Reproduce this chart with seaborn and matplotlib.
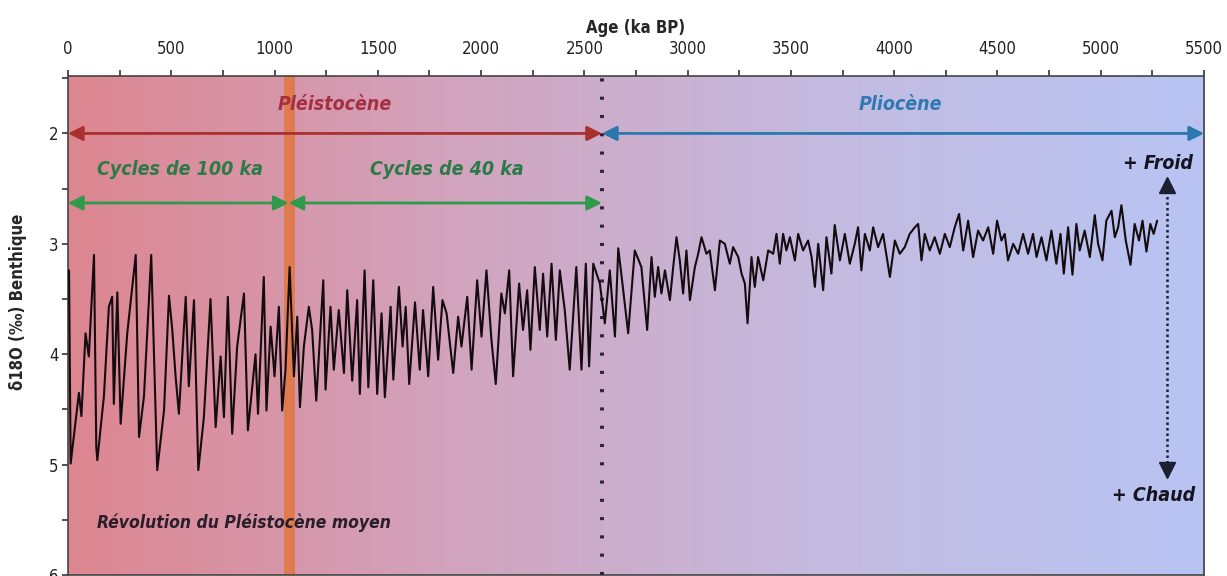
import numpy as np
import pandas as pd
import seaborn as sns
import matplotlib.pyplot as plt
from matplotlib import font_manager as fm
from matplotlib.colors import LinearSegmentedColormap
from matplotlib.ticker import MultipleLocator

sns.set_theme(style="ticks")

# narrow font like the original (Arial Narrow look)
cond = any(f.name == 'DejaVu Sans' and f.stretch == 'condensed' for f in fm.fontManager.ttflist)
if cond:
    plt.rcParams['font.family'] = ['DejaVu Sans']
    plt.rcParams['font.stretch'] = 'condensed'
    scale = 1.0
else:
    plt.rcParams['font.family'] = ['Liberation Sans', 'DejaVu Sans']
    scale = 0.85

# benthic d18O stack (turning points)
age_ka = [0, 5, 13, 53, 65, 85, 101, 126, 137, 142, 174, 198, 214, 222, 239, 255, 287,
          328, 344, 368, 403, 432, 465, 489, 505, 521, 537, 570, 585, 610, 631, 658,
          690, 715, 739, 755, 774, 795, 819, 852, 871, 908, 920, 948, 961, 981, 1000,
          1021, 1037, 1053, 1073, 1094, 1110, 1123, 1142, 1166, 1182, 1202, 1236, 1247,
          1271, 1287, 1311, 1336, 1352, 1376, 1400, 1413, 1436,
          1454, 1478, 1497, 1518, 1534, 1562, 1575, 1602, 1620, 1635, 1652, 1680, 1703,
          1719, 1744, 1768, 1792, 1813, 1833, 1865, 1889, 1905, 1933, 1954, 1981, 2002,
          2026, 2050, 2071, 2098, 2115, 2136, 2155, 2184, 2203, 2223, 2239, 2260, 2284,
          2300, 2320, 2341, 2362, 2381, 2405, 2429, 2461, 2486, 2507, 2523, 2543, 2575,
          2599, 2623, 2648, 2664, 2688, 2712, 2744, 2776, 2804,
          2825, 2841, 2857, 2873, 2890, 2914, 2930, 2946, 2962, 2978, 2994, 3011, 3035,
          3051, 3067, 3091, 3107, 3132, 3156, 3180, 3204, 3220, 3245, 3261, 3277, 3290,
          3309, 3325, 3341, 3366, 3390, 3414, 3430, 3446, 3462, 3478, 3495, 3519, 3535,
          3559, 3583, 3600, 3616, 3632, 3656, 3672, 3696, 3712, 3737, 3761, 3785, 3809,
          3825, 3841, 3858, 3882, 3898, 3922, 3946, 3979, 4003, 4027, 4051, 4075, 4100,
          4116, 4132, 4148, 4172, 4196, 4221, 4245, 4269, 4293, 4314, 4334, 4358, 4382,
          4406, 4430, 4455, 4479, 4498, 4519, 4535, 4551, 4576, 4600, 4624, 4648, 4672,
          4689, 4713, 4737, 4761, 4785, 4805, 4821, 4842, 4863, 4882, 4898, 4922, 4947,
          4971, 4987, 5008, 5027, 5052, 5068, 5084, 5100, 5121, 5144, 5164, 5185, 5202,
          5221, 5240, 5256, 5273]
d18o = [3.30, 3.24, 4.99, 4.35, 4.56, 3.81, 4.02, 3.10, 4.84, 4.96, 4.38, 3.57, 3.48, 4.45, 3.44, 4.63, 3.81,
        3.10, 4.75, 4.38, 3.10, 5.05, 4.51, 3.47, 3.78, 4.20, 4.54, 3.48, 4.29, 3.51, 5.05, 4.57,
        3.50, 4.66, 4.02, 4.57, 3.48, 4.72, 3.93, 3.45, 4.69, 4.00, 4.54, 3.30, 4.51, 3.75, 4.20,
        3.57, 4.51, 4.14, 3.21, 4.20, 3.66, 4.48, 3.93, 3.57, 3.78, 4.42, 3.33, 4.32,
        3.57, 4.14, 3.60, 4.17, 3.42, 4.24, 3.51, 4.36, 3.24,
        4.30, 3.33, 4.36, 3.63, 4.39, 3.57, 4.23, 3.39, 3.93, 3.57, 4.27, 3.53, 4.14,
        3.60, 4.20, 3.39, 4.05, 3.51, 3.63, 4.17, 3.66, 3.93, 3.48, 4.14, 3.33, 3.84,
        3.24, 3.87, 4.27, 3.45, 3.63, 3.24, 4.20, 3.36, 3.78, 3.42, 3.96, 3.21, 3.78,
        3.27, 3.84, 3.18, 3.87, 3.24, 3.60, 4.14, 3.21, 4.14, 3.18, 4.11, 3.18, 3.36,
        3.72, 3.24, 3.84, 3.04, 3.42, 3.81, 3.06, 3.21, 3.78,
        3.12, 3.48, 3.21, 3.45, 3.24, 3.51, 3.21, 2.94, 3.15, 3.45, 3.06, 3.51, 3.21,
        3.09, 2.94, 3.09, 3.06, 3.42, 2.97, 3.00, 3.18, 3.03, 3.12, 3.27, 3.36, 3.72,
        3.12, 3.39, 3.12, 3.33, 3.06, 3.09, 2.91, 3.18, 2.91, 3.06, 2.94, 3.15, 2.91,
        3.06, 2.97, 3.12, 3.39, 3.00, 3.42, 2.94, 3.27, 2.83, 3.15, 2.91, 3.18, 3.00,
        2.85, 3.24, 2.91, 3.06, 2.85, 3.03, 2.91, 3.30, 2.97, 3.09, 3.03, 2.91, 2.85,
        2.82, 3.15, 2.91, 3.06, 2.94, 3.09, 2.91, 3.03, 2.85, 2.73, 3.06, 2.79, 3.12,
        2.88, 2.97, 2.85, 3.09, 2.79, 2.97, 2.91, 3.15, 3.00, 3.09, 2.91, 3.09, 2.91,
        3.12, 2.94, 3.15, 2.88, 3.18, 2.91, 3.27, 2.85, 3.28, 2.82, 3.06, 2.88, 3.12,
        2.74, 3.00, 3.15, 2.79, 2.70, 2.94, 2.85, 2.65, 2.97, 3.19, 2.82, 2.97, 2.79,
        3.07, 2.82, 2.91, 2.79]

df = pd.DataFrame({'age': age_ka, 'd18o': d18o})

bg_colors = ['#dd8690', '#d2a3bd', '#c4bbe0', '#b8c4f3']
plio_start = 2585
mpr = (1045, 1100)

fig = plt.figure(figsize=(12.27, 5.76), dpi=100)
ax = fig.add_axes([0.0554, 0.0017, 0.9259, 0.8663])

cmap = LinearSegmentedColormap.from_list('bg', bg_colors)
ax.imshow(np.linspace(0, 1, 256)[None, :], extent=(0, 5500, 6, 1.48),
          aspect='auto', cmap=cmap, zorder=0)
ax.axvspan(mpr[0], mpr[1], color='#e2773f', alpha=0.85, lw=0, zorder=1)
ax.axvline(plio_start, color='#2b2235', lw=2.8, ls=(0, (0.8, 3.9)), zorder=3)

sns.lineplot(data=df, x='age', y='d18o', color='#150c10', lw=1.5,
             estimator=None, sort=False, ax=ax, zorder=4)

ax.set_xlim(0, 5500)
ax.set_ylim(6, 1.48)
ax.xaxis.tick_top()
ax.xaxis.set_label_position('top')
ax.xaxis.set_major_locator(MultipleLocator(500))
ax.xaxis.set_minor_locator(MultipleLocator(250))
ax.yaxis.set_major_locator(MultipleLocator(1))
ax.yaxis.set_minor_locator(MultipleLocator(0.5))
ax.tick_params(which='both', length=4, width=1.2, color='#333333', labelsize=12 * scale,
               labelcolor='#222222', pad=3)
ax.tick_params(axis='x', which='major', pad=9)
for s in ax.spines.values():
    s.set_color('#444444')
    s.set_linewidth(1.2)

ax.set_xlabel('Age (ka BP)', fontsize=12 * scale, fontweight='bold', labelpad=5)
ax.set_ylabel('δ18O (‰) Benthique', fontsize=12 * scale, fontweight='bold')
ax.yaxis.set_label_coords(-0.036, 0.547)

# period arrows
def arrow(x0, x1, y, color):
    ax.annotate('', xy=(x1, y), xytext=(x0, y),
                arrowprops=dict(arrowstyle='<|-|>', color=color, lw=2,
                                mutation_scale=22, shrinkA=0, shrinkB=0), zorder=5)

arrow(0, plio_start, 2.0, '#a8302e')
arrow(plio_start, 5500, 2.0, '#2a78ae')
arrow(0, 1068, 2.63, '#2f9a4c')
arrow(1068, plio_start, 2.63, '#2f9a4c')

fs = 14 * scale
txt = dict(fontsize=fs, style='italic', fontweight='bold', ha='center', va='center')
ax.text(1290, 1.74, 'Pléistocène', color='#a63040', **txt)
ax.text(4030, 1.74, 'Pliocène', color='#2f78b2', **txt)
ax.text(540, 2.33, 'Cycles de 100 ka', color='#2b7a48', **txt)
ax.text(1835, 2.33, 'Cycles de 40 ka', color='#2b7a48', **txt)
ax.text(850, 5.53, 'Révolution du Pléistocène moyen', color='#2a1e2a',
        fontsize=12.5 * scale, style='italic', fontweight='bold', ha='center', va='center')
ax.text(5445, 2.27, '+ Froid', color='#141420', fontsize=fs, style='italic',
        fontweight='bold', ha='right', va='center')
ax.text(5455, 5.28, '+ Chaud', color='#141420', fontsize=fs, style='italic',
        fontweight='bold', ha='right', va='center')

# cold / warm dotted arrow
ax.plot([5320, 5320], [2.52, 5.0], color='#1c2030', lw=1.8, ls=(0, (1, 1.2)), zorder=5)
ax.plot([5320], [2.47], marker='^', ms=11, color='#1c2030', zorder=6)
ax.plot([5320], [5.05], marker='v', ms=11, color='#1c2030', zorder=6)

fig.savefig('out.png', dpi=100)
